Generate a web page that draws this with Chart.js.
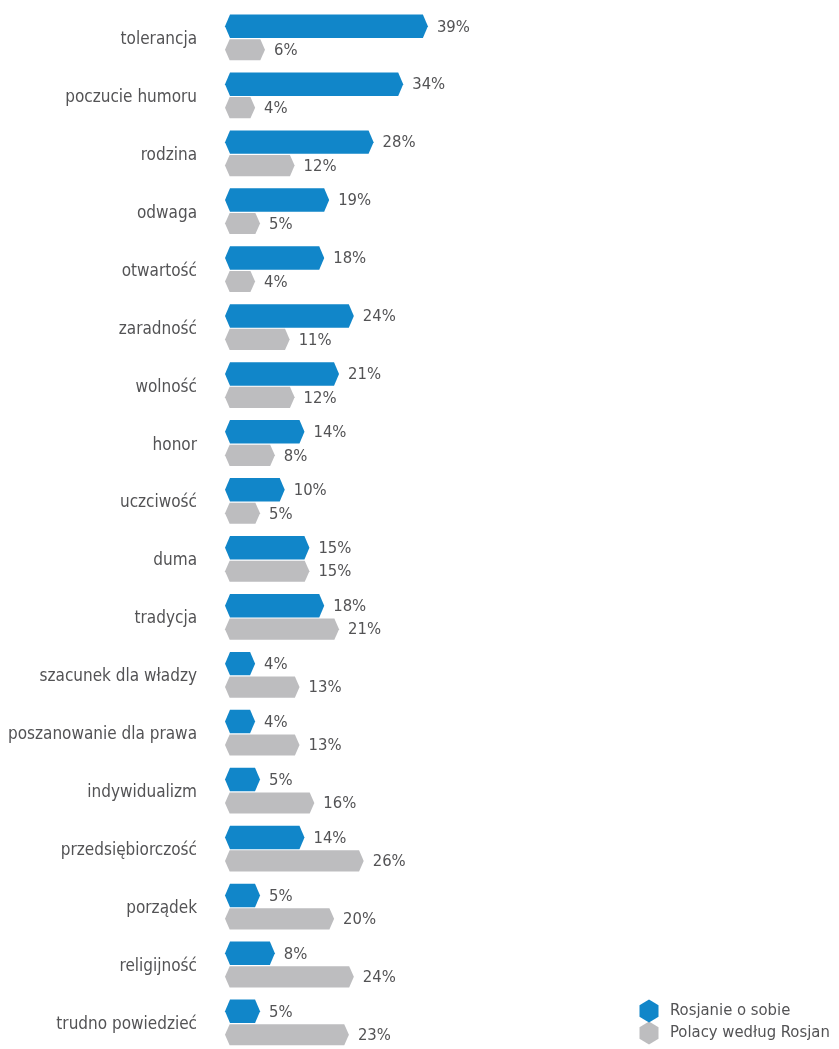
<!DOCTYPE html>
<html><head><meta charset="utf-8">
<script src="https://cdn.jsdelivr.net/npm/chart.js@4.4.0/dist/chart.umd.min.js"></script>
<style>html,body{margin:0;padding:0;background:#fff;overflow:hidden}</style>
</head><body>
<canvas id="c" width="839" height="1052"></canvas>
<script>
const categories = ['tolerancja','poczucie humoru','rodzina','odwaga','otwartość','zaradność','wolność','honor','uczciwość','duma','tradycja','szacunek dla władzy','poszanowanie dla prawa','indywidualizm','przedsiębiorczość','porządek','religijność','trudno powiedzieć'];
const rosjanieOSobie = [39,34,28,19,18,24,21,14,10,15,18,4,4,5,14,5,8,5];
const polacyWedlugRosjan = [6,4,12,5,4,11,12,8,5,15,21,13,13,16,26,20,24,23];
const seriesNames = ['Rosjanie o sobie','Polacy według Rosjan'];
const seriesColors = ['#1186c9','#bdbdbf'];
const FONT = '"DejaVu Sans Condensed", "DejaVu Sans", sans-serif';
const TEXT = '#535355';

function hexH(ctx, left, right, y, h, c, color){
  ctx.beginPath();
  ctx.moveTo(left, y);
  ctx.lineTo(left + c, y - h/2);
  ctx.lineTo(right - c, y - h/2);
  ctx.lineTo(right, y);
  ctx.lineTo(right - c, y + h/2);
  ctx.lineTo(left + c, y + h/2);
  ctx.closePath();
  ctx.fillStyle = color; ctx.fill();
}
function hexV(ctx, cx, cy, w, h, color){
  const c = h*0.25;
  ctx.beginPath();
  ctx.moveTo(cx, cy - h/2);
  ctx.lineTo(cx + w/2, cy - h/2 + c);
  ctx.lineTo(cx + w/2, cy + h/2 - c);
  ctx.lineTo(cx, cy + h/2);
  ctx.lineTo(cx - w/2, cy + h/2 - c);
  ctx.lineTo(cx - w/2, cy - h/2 + c);
  ctx.closePath();
  ctx.fillStyle = color; ctx.fill();
}

const hexBars = {
  id: 'hexBars',
  afterDatasetsDraw(chart){
    const ctx = chart.ctx; const xs = chart.scales.x;
    const left = xs.getPixelForValue(xs.min);
    chart.data.datasets.forEach((ds, i) => {
      const meta = chart.getDatasetMeta(i);
      meta.data.forEach((el, j) => {
        const p = el.getProps(['x','y','height'], true);
        const c = Math.min(5, p.height*0.22);
        hexH(ctx, left, p.x, p.y, p.height, c, ds.hexColor);
        ctx.save();
        ctx.fillStyle = TEXT;
        ctx.font = '16.5px ' + FONT;
        ctx.textBaseline = 'middle'; ctx.textAlign = 'left';
        ctx.fillText(ds.data[j] + '%', p.x + 9, p.y + 1);
        ctx.restore();
      });
    });
  },
  afterDraw(chart){
    const ctx = chart.ctx;
    const lx = 649, ly = 1011, step = 22;
    hexV(ctx, lx, ly + step, 19, 23, seriesColors[1]);
    hexV(ctx, lx, ly, 19, 23, seriesColors[0]);
    ctx.save();
    ctx.fillStyle = TEXT; ctx.font = '16.5px ' + FONT;
    ctx.textBaseline = 'middle'; ctx.textAlign = 'left';
    seriesNames.forEach((n, i) => ctx.fillText(n, 670, ly + i*step));
    ctx.restore();
  }
};

new Chart(document.getElementById('c'), {
  type: 'bar',
  data: {
    labels: categories,
    datasets: [
      {label: seriesNames[0], data: rosjanieOSobie, hexColor: seriesColors[0], backgroundColor: 'rgba(0,0,0,0)', barPercentage: 1.0, categoryPercentage: 0.81},
      {label: seriesNames[1], data: polacyWedlugRosjan, hexColor: seriesColors[1], backgroundColor: 'rgba(0,0,0,0)', barPercentage: 0.9, categoryPercentage: 0.81}
    ]
  },
  options: {
    indexAxis: 'y',
    responsive: false,
    animation: false,
    layout: {padding: {top: 9, bottom: 0, left: 0, right: 110}},
    plugins: {legend: {display: false}, tooltip: {enabled: false}},
    scales: {
      x: {display: false, min: -2.1, max: 100},
      y: {
        grid: {display: false}, border: {display: false},
        ticks: {color: TEXT, font: {family: FONT, size: 17}, padding: 20, labelOffset: 1.5},
        afterFit(scale){ scale.width = 225; scale.paddingTop = 0; scale.paddingBottom = 0; }
      }
    }
  },
  plugins: [hexBars]
});
</script>
</body></html>
